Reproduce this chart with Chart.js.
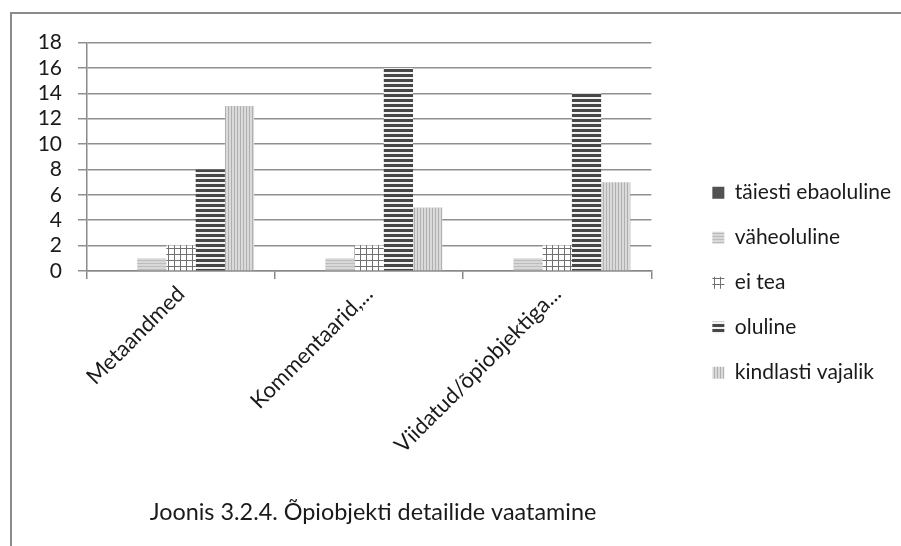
<!DOCTYPE html>
<html>
<head>
<meta charset="utf-8">
<script src="https://cdn.jsdelivr.net/npm/chart.js@4.4.1/dist/chart.umd.min.js"></script>
<style>
  html, body { margin: 0; padding: 0; background: #fff; }
  body { width: 901px; height: 546px; overflow: hidden; position: relative; }
  #frame { position: absolute; left: 10px; top: 12px; width: 900px; height: 540px;
           border-left: 2px solid #8a8a8a; border-top: 2px solid #8a8a8a; }
  #wrap { position: absolute; left: 12px; top: 14px; width: 889px; height: 532px; }
</style>
</head>
<body>
<div id="frame"></div>
<div id="wrap"><canvas id="chart"></canvas></div>
<script>
// Survey answers per detail type
const categories = ['Metaandmed', 'Kommentaarid,...', 'Viidatud/õpiobjektiga...'];
const seriesNames = ['täiesti ebaoluline', 'väheoluline', 'ei tea', 'oluline', 'kindlasti vajalik'];
const taiestiEbaoluline = [0, 0, 0];
const vaheoluline = [1, 1, 1];
const eiTea = [2, 2, 2];
const oluline = [8, 16, 14];
const kindlastiVajalik = [13, 5, 7];
const yTickValues = [0, 2, 4, 6, 8, 10, 12, 14, 16, 18];
const caption = 'Joonis 3.2.4. Õpiobjekti detailide vaatamine';

const FONT = 'Lato';

// Small repeating tiles for the monochrome bar fills
function tile(w, h, paint) {
  const c = document.createElement('canvas');
  c.width = w; c.height = h;
  const g = c.getContext('2d');
  paint(g, w, h);
  return g.createPattern(c, 'repeat');
}
const fillSolid = '#525252';
const fillLightRows = tile(4, 3, (g, w, h) => {
  g.fillStyle = '#d8d8d8'; g.fillRect(0, 0, w, h);
  g.fillStyle = '#bdbdbd'; g.fillRect(0, 0, w, 1);
});
const fillGrid = tile(6, 6, (g, w, h) => {
  g.fillStyle = '#ffffff'; g.fillRect(0, 0, w, h);
  g.fillStyle = '#707070'; g.fillRect(0, 0, w, 1); g.fillRect(0, 0, 1, h);
});
const fillDarkRows = tile(4, 5, (g, w, h) => {
  g.fillStyle = '#f2f2f2'; g.fillRect(0, 0, w, h);
  g.fillStyle = '#474747'; g.fillRect(0, 0, w, 3);
});
const fillLightCols = tile(3, 4, (g, w, h) => {
  g.fillStyle = '#dadada'; g.fillRect(0, 0, w, h);
  g.fillStyle = '#b0b0b0'; g.fillRect(0, 0, 1, h);
});

const seriesValues = [taiestiEbaoluline, vaheoluline, eiTea, oluline, kindlastiVajalik];
const seriesFills = [fillSolid, fillLightRows, fillGrid, fillDarkRows, fillLightCols];

// Figure caption under the axis labels
const captionPlugin = {
  id: 'caption',
  afterDraw(chart) {
    const ctx = chart.ctx;
    ctx.save();
    ctx.font = '23.4px ' + FONT;
    ctx.fillStyle = '#1a1a1a';
    ctx.textAlign = 'center';
    ctx.textBaseline = 'middle';
    ctx.fillText(caption, 361, 498);
    ctx.restore();
  }
};

// Keep a gap between the plot and the legend column
const legendGap = {
  id: 'legendGap',
  afterLayout(chart) {
    const lg = chart.legend;
    const dx = chart.chartArea.right + 37 - lg.left;
    lg.left += dx; lg.right += dx;
    lg.top -= 10; lg.bottom -= 10;
  }
};

const chart = new Chart(document.getElementById('chart'), {
  type: 'bar',
  data: {
    labels: categories,
    datasets: seriesNames.map((name, i) => ({
      label: name,
      data: seriesValues[i],
      backgroundColor: seriesFills[i],
      borderWidth: 0,
      barPercentage: 1,
      categoryPercentage: 0.777
    }))
  },
  options: {
    responsive: true,
    maintainAspectRatio: false,
    animation: false,
    layout: { padding: { top: 25.4, right: 37, bottom: 0, left: 0 } },
    plugins: {
      legend: {
        position: 'right',
        labels: {
          font: { family: FONT, size: 21 },
          color: '#1a1a1a',
          boxWidth: 12,
          boxHeight: 12,
          padding: 24
        }
      },
      tooltip: { enabled: false },
      title: { display: false }
    },
    scales: {
      x: {
        grid: { drawOnChartArea: false, drawTicks: true, tickLength: 8, color: '#8a8a8a', lineWidth: 1.5 },
        border: { color: '#8a8a8a', width: 1.5 },
        ticks: { minRotation: 45, maxRotation: 45, autoSkip: false, padding: 2,
                 font: { family: FONT, size: 22 }, color: '#1a1a1a' },
        afterFit(s) { s.height = 275; }
      },
      y: {
        min: 0, max: 18,
        grid: { color: '#909090', lineWidth: 1.5, tickLength: 9 },
        border: { color: '#8a8a8a', width: 1.5 },
        ticks: { stepSize: 2, autoSkip: false, padding: 16,
                 font: { family: FONT, size: 21 }, color: '#1a1a1a' },
        afterBuildTicks(s) { s.ticks = yTickValues.map(v => ({ value: v })); },
        afterFit(s) { s.width = 75; }
      }
    }
  },
  plugins: [captionPlugin, legendGap]
});
</script>
</body>
</html>
